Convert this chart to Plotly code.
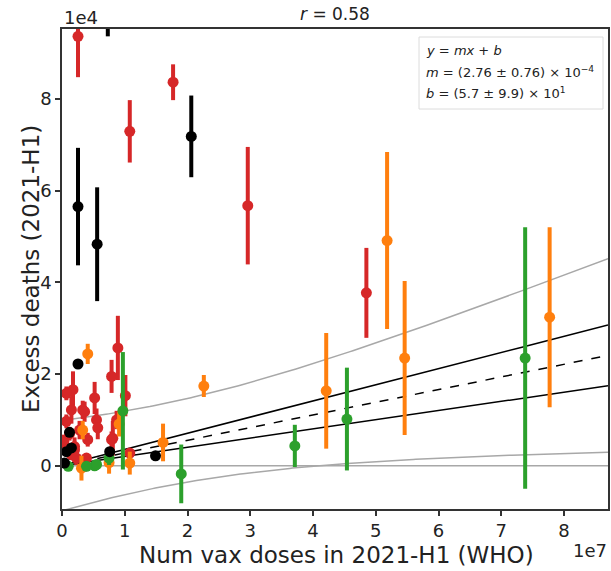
import numpy as np
import plotly.graph_objects as go

# data in units of 1e7 doses (x) and 1e4 deaths (y)
X_SCALE = 1e7
Y_SCALE = 1e4

red_x = [0.255, 1.77, 1.08, 2.96, 4.85, 0.175, 0.07, 0.15, 0.33, 0.52, 0.55, 0.07, 0.28, 0.41, 0.20,
         0.15, 0.23, 0.39, 0.36, 0.79, 0.89, 0.81, 1.01, 1.08, 0.36, 0.57, 0.79, 0.03, 0.20, 0.12, 0.87]
red_y = [9.36, 8.36, 7.29, 5.67, 3.77, 1.66, 1.58, 1.22, 1.22, 1.48, 1.00, 0.97, 0.78, 0.57, 0.42,
         0.24, 0.17, 0.17, -0.01, 1.95, 2.57, 0.60, 1.53, 0.28, 1.18, 0.83, 0.57, 0.53, 0.35, 0.70, 1.00]
red_err = [0.89, 0.39, 0.68, 1.28, 0.98, 0.40, 0.15, 0.30, 0.20, 0.35, 0.25, 0.15, 0.20, 0.15, 0.20,
           0.10, 0.15, 0.10, 0.10, 0.36, 0.70, 0.38, 0.45, 0.10, 0.22, 0.25, 0.18, 0.15, 0.10, 0.15, 0.20]

orange_x = [5.46, 7.77, 5.18, 4.21, 2.26, 1.61, 0.41, 0.91, 1.08, 0.31, 0.33, 0.75]
orange_y = [2.35, 3.24, 4.91, 1.635, 1.74, 0.51, 2.44, 0.91, 0.06, -0.05, 0.78, 0.07]
orange_err = [1.68, 1.96, 1.93, 1.26, 0.24, 0.41, 0.22, 0.27, 0.25, 0.27, 0.20, 0.24]

green_x = [7.38, 4.54, 3.71, 1.90, 0.97, 0.52, 0.75, 0.39, 0.10, 0.55]
green_y = [2.35, 1.02, 0.435, -0.175, 1.20, 0.00, 0.17, -0.01, -0.01, 0.03]
green_err = [2.85, 1.12, 0.46, 0.64, 1.28, 0.10, 0.15, 0.10, 0.05, 0.10]

black_x = [0.255, 0.56, 2.06, 0.73, 1.49, 0.255, 0.76, 0.12, 0.15, 0.07, 0.04]
black_y = [5.65, 4.83, 7.18, 10.3, 0.22, 2.22, 0.31, 0.73, 0.39, 0.31, 0.06]
black_err = [1.28, 1.24, 0.89, 0.94, 0.05, 0.05, 0.08, 0.10, 0.08, 0.08, 0.10]

# fit y = m x + b (from the box), 1-sigma errors
m, dm = 2.76e-4, 0.76e-4
b, db = 5.7e1, 9.9e1
# outer (grey) band: half-width sqrt(a^2 + k^2 (x - x0)^2)
band_a = 0.9e4
band_k = 2.65e-4
band_x0 = 1.5e7

x_max = 8.7e7
y_min, y_max = -0.94e4, 9.52e4

# plot area in pixels
W, H = 611, 571
L, R, T, B = 62, 608, 29, 509


def px(x):
    return (x - L) / (R - L)


def py(y):
    return (B - y) / (B - T)


fig = go.Figure()

xx = np.linspace(0, x_max, 200)
fit = m * xx + b
inner = np.sqrt(db ** 2 + (xx * dm) ** 2)
outer = np.sqrt(band_a ** 2 + (band_k * (xx - band_x0)) ** 2)

grey = "#a8a8a8"
fig.add_trace(go.Scatter(x=[0, x_max], y=[0, 0], mode="lines", line=dict(color=grey, width=1.5)))
for sgn in (1, -1):
    fig.add_trace(go.Scatter(x=xx, y=fit + sgn * outer, mode="lines", line=dict(color=grey, width=1.5)))
    fig.add_trace(go.Scatter(x=xx, y=fit + sgn * inner, mode="lines", line=dict(color="black", width=1.5)))
fig.add_trace(go.Scatter(x=xx, y=fit, mode="lines", line=dict(color="black", width=1.5, dash="dash")))

groups = [
    (red_x, red_y, red_err, "#d62728"),
    (orange_x, orange_y, orange_err, "#ff7f0e"),
    (green_x, green_y, green_err, "#2ca02c"),
    (black_x, black_y, black_err, "#000000"),
]
for gx, gy, ge, col in groups:
    fig.add_trace(go.Scatter(
        x=np.array(gx) * X_SCALE,
        y=np.array(gy) * Y_SCALE,
        mode="markers",
        marker=dict(color=col, size=11),
        error_y=dict(type="data", array=np.array(ge) * Y_SCALE, color=col, thickness=4, width=0),
    ))

tick_font = dict(family="DejaVu Sans", size=18, color="#222")
axis_common = dict(
    showgrid=False, zeroline=False, showline=True, mirror=True,
    linecolor="#333", linewidth=1.5, ticks="outside", ticklen=5, tickwidth=1.5,
    tickcolor="#333", tickfont=tick_font, automargin=False,
)

fig.update_layout(
    width=W, height=H,
    margin=dict(l=L, r=W - R, t=T, b=H - B),
    paper_bgcolor="white", plot_bgcolor="white",
    showlegend=False,
    xaxis=dict(range=[0, x_max], tickvals=[i * X_SCALE for i in range(9)],
               ticktext=[str(i) for i in range(9)], **axis_common),
    yaxis=dict(range=[y_min, y_max], tickvals=[i * Y_SCALE for i in (0, 2, 4, 6, 8)],
               ticktext=["0", "2", "4", "6", "8"], **axis_common),
)

txt = dict(family="DejaVu Sans", color="#222")
ann = [
    dict(x=px(335), y=py(14), text="<i>r</i> = 0.58", font=dict(size=17, **txt)),
    dict(x=px(81), y=py(18), text="1e4", font=dict(size=18, **txt)),
    dict(x=px(590), y=py(550), text="1e7", font=dict(size=18, **txt)),
    dict(x=px(336), y=py(555), text="Num vax doses in 2021-H1 (WHO)", font=dict(size=23, **txt)),
    dict(x=px(31), y=py(269), text="Excess deaths (2021-H1)", textangle=-90, font=dict(size=23, **txt)),
]
box_lines = [
    "<i>y</i> = <i>mx</i> + <i>b</i>",
    "<i>m</i> = (2.76 ± 0.76) × 10<sup>−4</sup>",
    "<i>b</i> = (5.7 ± 9.9) × 10<sup>1</sup>",
]
for i, line in enumerate(box_lines):
    ann.append(dict(x=px(424), y=py(51 + 21 * i), text=line, xanchor="left",
                    font=dict(size=13, **txt)))
for a in ann:
    a.setdefault("xanchor", "center")
    a.update(xref="paper", yref="paper", yanchor="middle", showarrow=False)
fig.update_layout(annotations=ann)

fig.add_shape(type="rect", xref="paper", yref="paper", x0=px(419), x1=px(603), y0=py(37), y1=py(109),
              line=dict(color="#dcdcdc", width=1), fillcolor="white", layer="above")

# the page body has a default 8px margin; drop it so the figure sits at the window corner
fig.write_html("out.html", config={"displayModeBar": False},
               post_script="document.body.style.margin='0';")
